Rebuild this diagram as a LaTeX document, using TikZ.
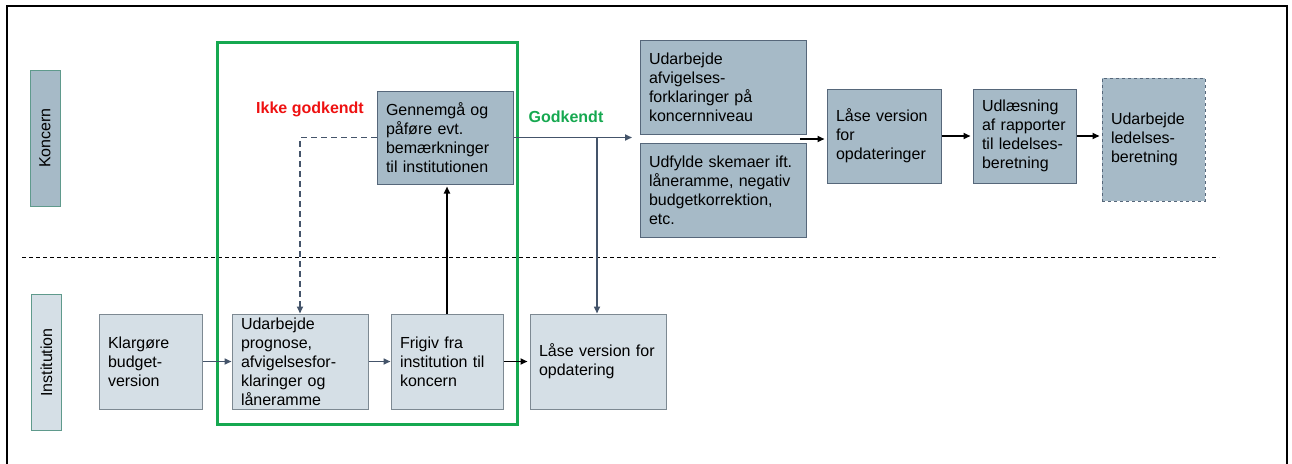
\documentclass[tikz,border=0pt]{standalone}
\usepackage{fontspec}
\setmainfont{Liberation Sans}
\usetikzlibrary{arrows.meta}
\definecolor{lightfill}{HTML}{D5DFE6}
\definecolor{darkfill}{HTML}{A6BAC7}
\definecolor{lightline}{HTML}{7D8992}
\definecolor{darkline}{HTML}{56677A}
\definecolor{laneline}{HTML}{5F9A8C}
\definecolor{slate}{HTML}{44546A}
\definecolor{okgreen}{HTML}{16A850}
\definecolor{notred}{HTML}{EE1111}
\newcommand{\boxfont}{\fontsize{16}{19}\selectfont}
\tikzset{
  every node/.style={font=\boxfont},
  proc/.style={draw=lightline, fill=lightfill, line width=1pt, inner xsep=9pt, inner ysep=0pt,
    align=left, minimum height=95pt},
  darkproc/.style={proc, draw=darkline, fill=darkfill, minimum height=94pt},
  lane/.style={draw=laneline, line width=1pt, rotate=90, minimum width=136pt, minimum height=30pt, inner sep=0pt},
  flow/.style={slate, line width=1.6pt, -{Triangle[length=7pt,width=6pt]}},
  blackflow/.style={black, line width=1.8pt, -{Triangle[length=7pt,width=6pt]}, shorten >=2pt}
}
\begin{document}
\begin{tikzpicture}[x = 1pt, y = -1pt]
  \useasboundingbox (0,0) rectangle (1292,463);
  \draw[line width=2pt] (7,470) -- (7,6) -- (1287,6) -- (1287,470); % frame
  \draw[dash pattern=on 4pt off 3pt, line width=.7pt] (22,257) -- (1219,257); % lane separator
  \draw[okgreen, line width=3pt] (217,42) rectangle (517,424);
  % lanes
  \node[lane, fill=darkfill] (koncern) at (45,138) {Koncern};
  \node[lane, fill=lightfill] (institution) at (46.5,362.5) {Institution};
  % institution
  \node[proc, text width=85pt] (klargore) at (150.5,361.5) {Klargøre\\budget-\\version};
  \node[proc, text width=118pt] (prognose) at (300,361.5) {Udarbejde\\prognose,\\afvigelsesfor-\\klaringer og\\låneramme};
  \node[proc, text width=94pt] (frigiv) at (447,361.5) {Frigiv fra\\institution til\\koncern};
  \node[proc, text width=118pt] (laasinst) at (598,361.5) {Låse version for\\opdatering};
  % koncern
  \node[darkproc, text width=118pt, minimum height=93pt] (gennemgaa) at (445,137.5) {Gennemgå og\\påføre evt.\\bemærkninger\\til institutionen};
  \node[darkproc, text width=148pt] (afvig) at (723,87) {Udarbejde\\afvigelses-\\forklaringer på\\koncernniveau};
  \node[darkproc, text width=148pt] (udfylde) at (723,190) {Udfylde skemaer ift.\\låneramme, negativ\\budgetkorrektion,\\etc.};
  \node[darkproc, text width=96pt] (laasekon) at (884,136) {Låse version\\for\\opdateringer};
  \node[darkproc, text width=85pt] (udlaes) at (1024.5,136) {Udlæsning\\af rapporter\\til ledelses-\\beretning};
  \node[darkproc, text width=85pt, minimum height=123pt, dashed] (ledelse) at (1153.5,139.5) {Udarbejde\\ledelses-\\beretning};
  \node[text=notred, font=\boxfont\bfseries] (ikke) at (310,109) {Ikke godkendt};
  \node[text=okgreen, font=\boxfont\bfseries] (godkendt) at (566,117) {Godkendt};
  % connectors
  \coordinate (godk) at (632,137.5);
  \coordinate (branch) at (597,137.5);
  \coordinate (merge) at (800,139);
  \draw[flow] (klargore) -- (prognose);
  \draw[flow] (prognose) -- (frigiv);
  \draw[blackflow] (frigiv) -- (laasinst);
  \draw[blackflow] (frigiv.north) -- (frigiv.north |- gennemgaa.south);
  \draw[flow, dash pattern=on 6pt off 4pt] (gennemgaa.west) -| (prognose.north);
  \draw[flow] (gennemgaa.east) -- (godk);
  \draw[flow] (branch) -- (branch |- laasinst.north);
  \draw[blackflow] (merge) -- (merge -| laasekon.west);
  \draw[blackflow] (laasekon) -- (udlaes);
  \draw[blackflow] (udlaes.east) -- (udlaes.east -| ledelse.west);
\end{tikzpicture}
\end{document}
